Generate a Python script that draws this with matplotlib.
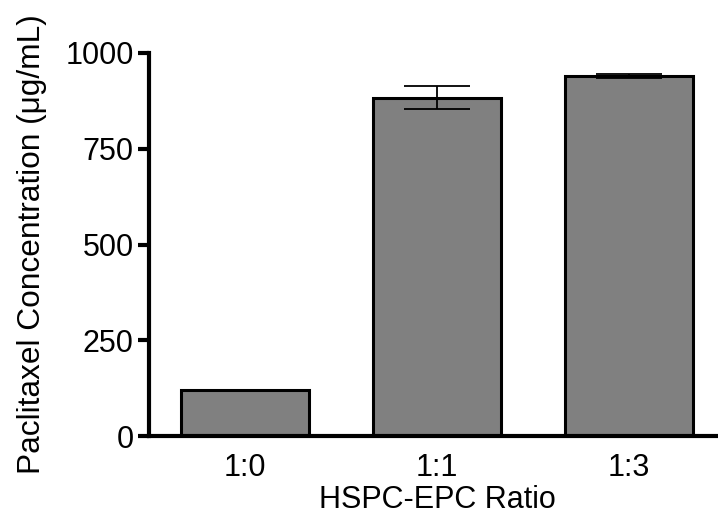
import matplotlib
matplotlib.use("Agg")
import matplotlib.pyplot as plt

# Paclitaxel loading for each HSPC:EPC lipid ratio (mean ± error)
ratios = ["1:0", "1:1", "1:3"]
concentration = [120, 883, 940]
error = [0, 30, 5]
y_ticks = [0, 250, 500, 750, 1000]

plt.rcParams["font.family"] = ["Liberation Sans", "DejaVu Sans"]
FS = 22

fig = plt.figure(figsize=(7.18, 5.18), dpi=100)
ax = fig.add_axes([149 / 718, 82 / 518, 576 / 718, 383 / 518])

x = range(len(ratios))
ax.bar(x, concentration, width=0.667, color="#808080", edgecolor="black",
       linewidth=2.2, zorder=2)
ax.errorbar(x, concentration, yerr=error, fmt="none", ecolor="black",
            elinewidth=1.3, capsize=23.5, capthick=1.3, zorder=3)

ax.set_xlim(-0.5, 2.5)
ax.set_ylim(0, 1000)
ax.set_xticks(list(x))
ax.set_xticklabels(ratios)
ax.set_yticks(y_ticks)
ax.set_yticklabels([str(v) for v in y_ticks])

for side in ("top", "right"):
    ax.spines[side].set_visible(False)
for side in ("left", "bottom"):
    ax.spines[side].set_linewidth(3)
    ax.spines[side].set_capstyle("projecting")

ax.tick_params(axis="y", length=8, width=3, labelsize=FS, pad=3)
ax.tick_params(axis="x", length=0, labelsize=FS, pad=12)

ax.set_xlabel("HSPC-EPC Ratio", fontsize=FS, labelpad=2)
ax.set_ylabel("Paclitaxel Concentration (μg/mL)", fontsize=22.8, labelpad=13)

fig.savefig("out.png", dpi=100)
